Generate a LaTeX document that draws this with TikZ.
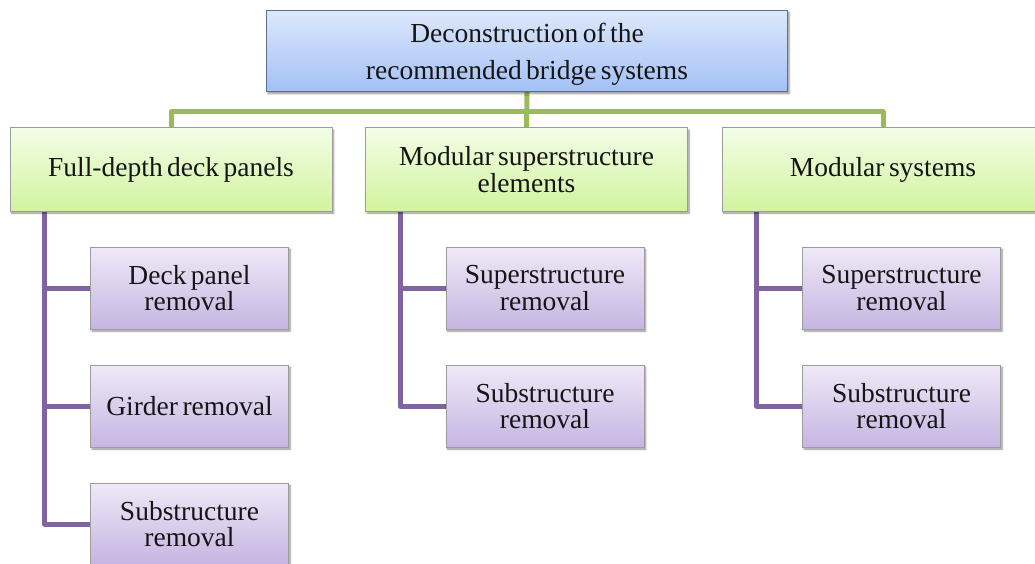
\documentclass[tikz,border=0pt]{standalone}
\usepackage{fontspec}
\setmainfont{Liberation Serif}[WordSpace=0.65]
\usetikzlibrary{shadows.blur,backgrounds}
\definecolor{topA}{HTML}{DDE8FB}
\definecolor{topB}{HTML}{A3C0F5}
\definecolor{topBorder}{HTML}{5F6F8A}
\definecolor{grnA}{HTML}{F3FDE7}
\definecolor{grnB}{HTML}{D2F49E}
\definecolor{purA}{HTML}{EEE9F7}
\definecolor{purB}{HTML}{C6B5E2}
\definecolor{boxBorder}{HTML}{9C9C9C}
\definecolor{grnLine}{HTML}{9BBB59}
\definecolor{purLine}{HTML}{8064A2}
\definecolor{txt}{HTML}{151515}
\tikzset{
  boxbase/.style={inner sep=0pt, align=center, line width=1pt, text=txt,
    blur shadow={shadow xshift=1.5pt, shadow yshift=-2pt, shadow blur steps=6, shadow opacity=45}},
  topbox/.style={boxbase, draw=topBorder, top color=topA, bottom color=topB,
    minimum width=521pt, minimum height=81pt, text height=62pt, font=\fontsize{27.5}{37}\selectfont},
  lonebox/.style={boxbase, draw=boxBorder, top color=grnA, bottom color=grnB,
    minimum width=322pt, minimum height=83pt, font=\fontsize{27.5}{27}\selectfont},
  ltwobox/.style={boxbase, draw=boxBorder, top color=purA, bottom color=purB,
    minimum width=198pt, minimum height=82pt, font=\fontsize{27.5}{26.5}\selectfont},
  gline/.style={draw=grnLine, line width=5pt, line join=round},
  pline/.style={draw=purLine, line width=5pt, line join=round, line cap=rect},
}
\begin{document}
\begin{tikzpicture}[x=1pt,y=-1pt]
\useasboundingbox (0,0) rectangle (1035,564);
\clip (0,0) rectangle (1035,564);
\node[topbox] (top) at (527,51) {Deconstruction of the\\recommended bridge systems};
\node[lonebox] (b1) at (171,169.5) {Full-depth deck panels};
\node[lonebox] (b2) at (526.5,169.5) {Modular superstructure\\elements};
\node[lonebox] (b3) at (883,169.5) {Modular systems};
\node[ltwobox] (c11) at (189.5,288) {Deck panel\\removal};
\node[ltwobox] (c12) at (189.5,406) {Girder removal};
\node[ltwobox] (c13) at (189.5,524) {Substructure\\removal};
\node[ltwobox] (c21) at (545,288) {Superstructure\\removal};
\node[ltwobox] (c22) at (545,406) {Substructure\\removal};
\node[ltwobox] (c31) at (901.5,288) {Superstructure\\removal};
\node[ltwobox] (c32) at (901.5,406) {Substructure\\removal};
\coordinate (j) at (527,112);
\coordinate (v1) at ([xshift=35pt]b1.south west);
\coordinate (v2) at ([xshift=35pt]b2.south west);
\coordinate (v3) at ([xshift=35pt]b3.south west);
\begin{scope}[on background layer]
\draw[gline] (top.south) -- (b2.north);
\draw[gline] (b1.north) |- (j) -| (b3.north);
\draw[pline] (v1) |- (c13.west);
\draw[pline] (v1 |- c11.west) -- (c11.west);
\draw[pline] (v1 |- c12.west) -- (c12.west);
\draw[pline] (v2) |- (c22.west);
\draw[pline] (v2 |- c21.west) -- (c21.west);
\draw[pline] (v3) |- (c32.west);
\draw[pline] (v3 |- c31.west) -- (c31.west);
\end{scope}
\end{tikzpicture}
\end{document}
